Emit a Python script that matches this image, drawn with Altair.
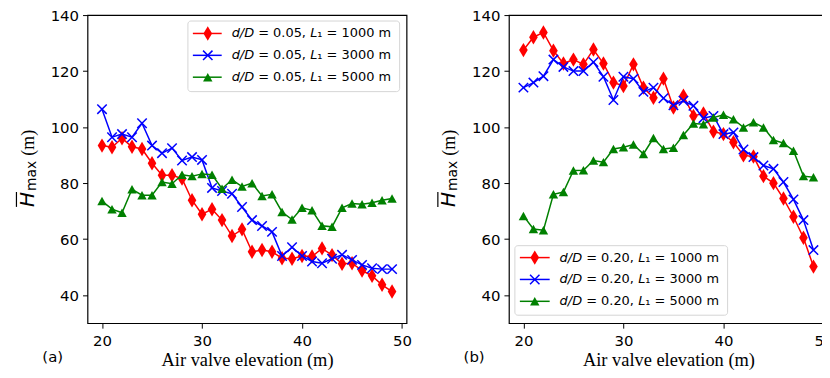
import altair as alt
import pandas as pd

# ---------------- data ----------------
x_vals = list(range(20, 50))

a_red = [93.4, 92.8, 96.0, 93.0, 92.2, 87.1, 82.8, 82.8, 81.6, 73.9,
         68.9, 70.7, 66.8, 61.1, 63.5, 55.5, 56.1, 55.5, 53.2, 53.0,
         54.0, 53.8, 56.7, 54.3, 51.2, 51.4, 48.8, 46.9, 43.7, 41.3]
a_blue = [106.4, 96.4, 97.5, 96.4, 101.4, 93.4, 90.7, 92.5, 88.1, 89.3,
          88.3, 78.3, 77.2, 76.2, 71.5, 66.8, 64.7, 62.6, 54.0, 57.1,
          54.0, 52.0, 51.4, 53.0, 54.4, 52.6, 50.8, 49.6, 49.3, 49.3]
a_green = [73.6, 70.7, 69.4, 77.8, 75.7, 75.7, 80.4, 79.8, 83.0, 82.5,
           83.3, 83.0, 78.0, 81.2, 78.8, 80.0, 75.4, 76.0, 69.7, 67.0,
           71.2, 70.3, 64.8, 64.4, 71.2, 72.7, 72.5, 73.0, 73.9, 74.5]

b_red = [127.5, 132.1, 133.8, 127.3, 122.7, 124.1, 122.4, 127.7, 122.7, 115.9,
         114.7, 122.4, 114.1, 110.5, 117.3, 107.0, 111.2, 104.0, 104.9, 98.4,
         97.5, 94.6, 89.9, 89.5, 82.5, 80.0, 74.5, 68.0, 60.5, 50.2]
b_blue = [114.1, 115.9, 118.2, 124.1, 121.5, 120.0, 120.0, 123.2, 118.0, 109.7,
          118.0, 117.3, 112.6, 114.1, 110.3, 107.8, 109.4, 107.6, 103.2, 104.0,
          97.5, 98.1, 92.0, 89.3, 86.3, 85.1, 80.4, 74.2, 66.8, 56.1]
b_green = [68.3, 63.6, 63.2, 76.0, 76.8, 84.5, 84.6, 88.1, 87.5, 92.2,
           92.8, 93.8, 90.4, 96.1, 92.2, 92.6, 97.2, 101.3, 101.0, 103.4,
           104.4, 102.8, 99.9, 101.7, 99.9, 95.4, 94.3, 91.6, 82.5, 82.1]

lengths = ["1000", "3000", "5000"]
x_ticks = [20, 30, 40, 50]
y_ticks = [40, 60, 80, 100, 120, 140]

# ---------------- styles ----------------
colors = ["#ff0000", "#0000ff", "#008000"]
shapes = ["M0,-1L0.6,0L0,1L-0.6,0Z",
          "M-1,-1L1,1M-1,1L1,-1",
          "M0,-0.9L1,0.9L-1,0.9Z"]
filled = [True, False, True]
sizes = [210, 90, 90]

W, H = 321, 310
one = pd.DataFrame({"k": [0]})

xscale = alt.Scale(domain=[18.55, 50.45], nice=False, zero=False)
yscale = alt.Scale(domain=[30, 140], nice=False, zero=False)
xaxis = alt.Axis(values=x_ticks, title="Air valve elevation (m)", grid=False)
yaxis = alt.Axis(values=y_ticks, title=None, grid=False)


def txt(text, x, y, **kw):
    return alt.Chart(one).mark_text(text=text, **kw).encode(
        x=alt.value(x), y=alt.value(y))


def legend_layers(dval, box, rows, lx, mx, tx):
    layers = [alt.Chart(one).mark_rect(fill="white", opacity=0.8,
                                       stroke="#cccccc", strokeWidth=1,
                                       cornerRadius=3).encode(
        x=alt.value(box[0]), x2=alt.value(box[1]),
        y=alt.value(box[2]), y2=alt.value(box[3]))]
    fs = 13
    sp = 0.318 * fs
    for i, ln in enumerate(lengths):
        ry = rows[i]
        layers.append(alt.Chart(one).mark_rule(color=colors[i], strokeWidth=1.5).encode(
            x=alt.value(lx[0]), x2=alt.value(lx[1]), y=alt.value(ry)))
        layers.append(alt.Chart(one).mark_point(
            shape=shapes[i], filled=filled[i], size=sizes[i], color=colors[i],
            opacity=1, strokeWidth=1.5).encode(x=alt.value(mx), y=alt.value(ry)))
        base = dict(font="DejaVu Sans", fontSize=fs, align="left",
                    baseline="middle", color="black")
        layers.append(txt("d/D", tx, ry, fontStyle="italic", **base))
        layers.append(txt("= " + dval + ",", tx + 22.6 + sp, ry, **base))
        layers.append(txt("L", tx + 79.0, ry, fontStyle="italic", **base))
        layers.append(txt("\u2081 = " + ln + " m", tx + 86.2, ry, **base))
    return layers


def panel(series, dval, tag, box, rows, lx, mx, tx):
    layers = []
    for i, vals in enumerate(series):
        df = pd.DataFrame({"x": x_vals, "y": vals})
        enc = dict(x=alt.X("x:Q", scale=xscale, axis=xaxis),
                   y=alt.Y("y:Q", scale=yscale, axis=yaxis))
        layers.append(alt.Chart(df).mark_line(color=colors[i], strokeWidth=1.5).encode(**enc))
        layers.append(alt.Chart(df).mark_point(
            shape=shapes[i], filled=filled[i], size=sizes[i], color=colors[i],
            opacity=1, strokeWidth=1.5).encode(**enc))
    layers += legend_layers(dval, box, rows, lx, mx, tx)
    # y-axis title pieces: H (italic, overlined), subscript "max", "(m)"
    layers.append(alt.Chart(one).mark_rule(color="black", strokeWidth=1.2).encode(
        x=alt.value(-71.5), y=alt.value(193), y2=alt.value(178)))
    layers.append(txt("H", -54, 193, angle=270, align="left", baseline="alphabetic",
                      font="DejaVu Sans", fontStyle="italic", fontSize=20))
    layers.append(txt("max", -52, 177, angle=270, align="left", baseline="alphabetic",
                      font="DejaVu Sans", fontSize=14))
    layers.append(txt("(m)", -54, 141.5, angle=270, align="left", baseline="alphabetic",
                      font="Liberation Serif", fontSize=18))
    layers.append(txt(tag, -35, 344, align="center", baseline="middle",
                      font="DejaVu Sans", fontSize=15))
    return alt.layer(*layers).properties(width=W, height=H)


left = panel([a_red, a_blue, a_green], "0.05", "(a)",
             box=(101, 314, 6, 77), rows=(18.5, 40.5, 62.5),
             lx=(106, 135), mx=121, tx=145)
right = panel([b_red, b_blue, b_green], "0.20", "(b)",
              box=(6, 220, 232, 302), rows=(244, 266, 288),
              lx=(11, 41), mx=26, tx=51)

chart = alt.hconcat(left, right, spacing=24).properties(
    padding={"left": 7, "top": -2, "right": -12, "bottom": 0}
).configure_view(stroke="black", strokeWidth=1.2).configure_axis(
    domain=False, tickColor="black", tickSize=5, tickWidth=1,
    labelFont="DejaVu Sans", labelFontSize=15, labelColor="black",
    labelPadding=5, titleFont="Liberation Serif", titleFontSize=18.5,
    titleFontWeight="normal", titleColor="black", titlePadding=3
).configure_axisY(labelPadding=4)

chart.save("out.html", embed_options={"renderer": "svg", "actions": False})
